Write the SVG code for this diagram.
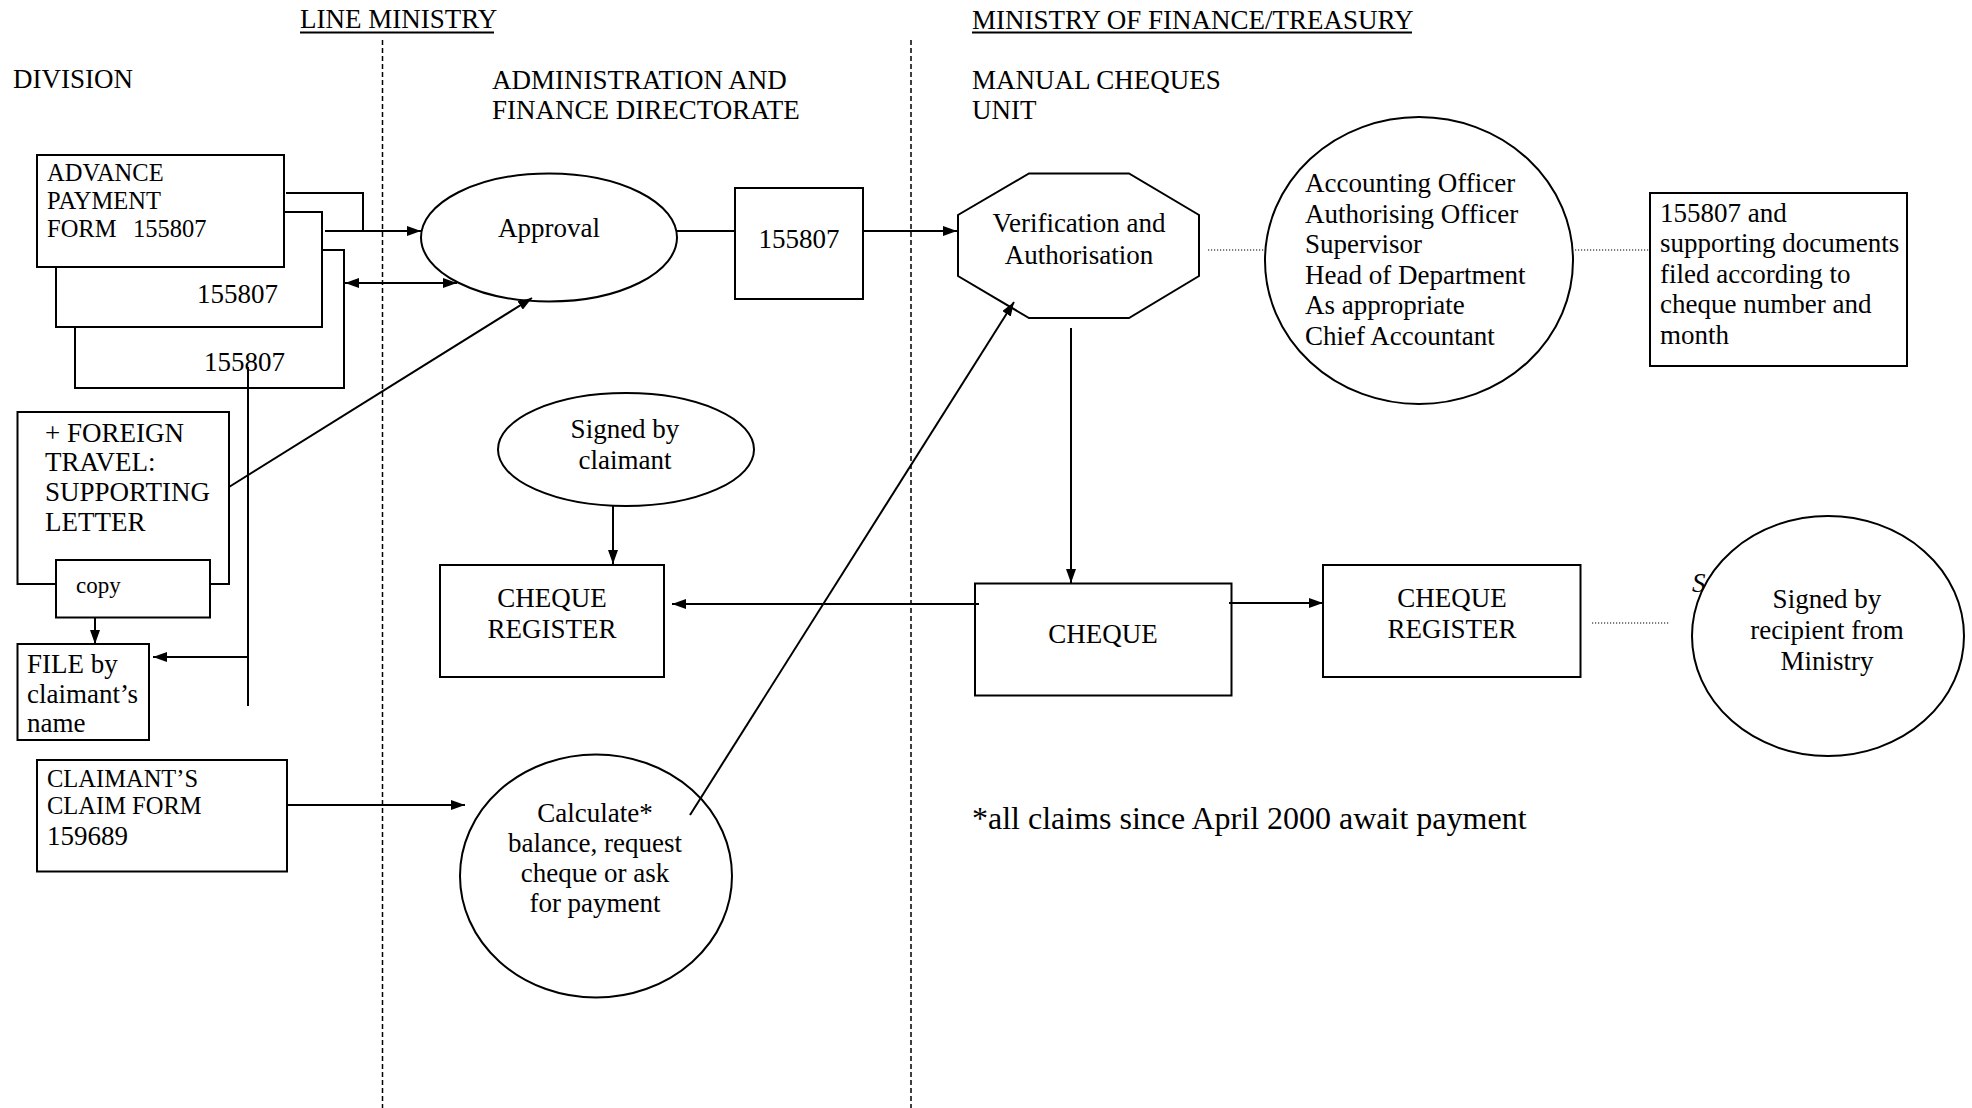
<svg xmlns="http://www.w3.org/2000/svg" width="1972" height="1108" viewBox="0 0 1972 1108">
  <style>
    text { font-family: "Liberation Serif", "Times New Roman", serif; font-size: 27px; fill: #000; }
    .small { font-size: 24.5px; }
    .copy { font-size: 23px; }
    .note { font-size: 32px; }
    .mid { text-anchor: middle; }
    .shape { fill: #fff; stroke: #000; stroke-width: 2; }
    .lane { stroke: #000; stroke-width: 1.5; stroke-dasharray: 5 3; fill: none; }
    .link { stroke: #000; stroke-width: 2; fill: none; }
    .dot { stroke: #000; stroke-width: 1.2; stroke-dasharray: 1.2 1.8; fill: none; }
    .head { stroke: #000; stroke-width: 2; }
  </style>
  <defs>
    <marker id="arrow" viewBox="0 0 14 10" refX="14" refY="5" markerWidth="14" markerHeight="10" markerUnits="userSpaceOnUse" orient="auto-start-reverse">
      <path d="M0,0 L14,5 L0,10 z" fill="#000"/>
    </marker>
  </defs>
  <rect width="1972" height="1108" fill="#fff"/>

  <!-- lane headings -->
  <g id="headings">
    <text x="300" y="28">LINE MINISTRY</text>
    <line class="head" x1="300" y1="32.5" x2="494" y2="32.5"/>
    <text x="972" y="29">MINISTRY OF FINANCE/TREASURY</text>
    <line class="head" x1="972" y1="32.5" x2="1412" y2="32.5"/>
    <text x="13" y="88">DIVISION</text>
    <text x="492" y="89">ADMINISTRATION AND</text>
    <text x="492" y="119">FINANCE DIRECTORATE</text>
    <text x="972" y="89">MANUAL CHEQUES</text>
    <text x="972" y="119">UNIT</text>
  </g>

  <!-- lane separators -->
  <g id="lanes">
    <line class="lane" x1="382.5" y1="40" x2="382.5" y2="1108"/>
    <line class="lane" x1="911" y1="40" x2="911" y2="1108"/>
  </g>

  <!-- stacked advance payment form copies -->
  <g id="form-copy-3">
    <rect class="shape" x="75" y="250" width="269" height="138"/>
    <text x="204" y="371">155807</text>
  </g>
  <g id="form-copy-2">
    <rect class="shape" x="56" y="212" width="266" height="115"/>
    <text x="197" y="303">155807</text>
  </g>
  <g id="advance-form">
    <rect class="shape" x="37" y="155" width="247" height="112"/>
    <text class="small" x="47" y="181">ADVANCE</text>
    <text class="small" x="47" y="209">PAYMENT</text>
    <text class="small" x="47" y="237">FORM</text>
    <text class="small" x="133" y="237">155807</text>
  </g>

  <g id="foreign-travel">
    <rect class="shape" x="17.5" y="412" width="211.5" height="172"/>
    <text x="45" y="442">+ FOREIGN</text>
    <text x="45" y="471">TRAVEL:</text>
    <text x="45" y="501">SUPPORTING</text>
    <text x="45" y="531">LETTER</text>
  </g>
  <g id="copy">
    <rect class="shape" x="56" y="560" width="154" height="57.5"/>
    <text class="copy" x="76" y="593">copy</text>
  </g>
  <g id="file">
    <rect class="shape" x="17.5" y="644" width="131.5" height="96"/>
    <text x="27" y="673">FILE by</text>
    <text x="27" y="703">claimant’s</text>
    <text x="27" y="732">name</text>
  </g>
  <g id="claim-form">
    <rect class="shape" x="37" y="760" width="250" height="111.5"/>
    <text class="small" x="47" y="787">CLAIMANT’S</text>
    <text class="small" x="47" y="814">CLAIM FORM</text>
    <text x="47" y="845">159689</text>
  </g>

  <!-- administration and finance directorate -->
  <g id="approval">
    <ellipse class="shape" cx="549" cy="237.5" rx="128" ry="64"/>
    <text class="mid" x="549" y="237">Approval</text>
  </g>
  <g id="form-number">
    <rect class="shape" x="735" y="188" width="128" height="111"/>
    <text class="mid" x="799" y="248">155807</text>
  </g>
  <g id="signed-claimant">
    <ellipse class="shape" cx="626" cy="449.5" rx="128" ry="56.5"/>
    <text class="mid" x="625" y="438">Signed by</text>
    <text class="mid" x="625" y="469">claimant</text>
  </g>
  <g id="register-left">
    <rect class="shape" x="440" y="565" width="224" height="112"/>
    <text class="mid" x="552" y="607">CHEQUE</text>
    <text class="mid" x="552" y="638">REGISTER</text>
  </g>
  <g id="calculate">
    <ellipse class="shape" cx="596" cy="876" rx="136" ry="121.5"/>
    <text class="mid" x="595" y="822">Calculate*</text>
    <text class="mid" x="595" y="852">balance, request</text>
    <text class="mid" x="595" y="882">cheque or ask</text>
    <text class="mid" x="595" y="912">for payment</text>
  </g>

  <!-- manual cheques unit -->
  <g id="verification">
    <polygon class="shape" points="1029,173.5 1129,173.5 1199,215 1199,276 1129,318 1029,318 958,276 958,215"/>
    <text class="mid" x="1079" y="232">Verification and</text>
    <text class="mid" x="1079" y="264">Authorisation</text>
  </g>
  <g id="officers">
    <ellipse class="shape" cx="1419" cy="260.5" rx="154" ry="143.5"/>
    <text x="1305" y="192">Accounting Officer</text>
    <text x="1305" y="222.5">Authorising Officer</text>
    <text x="1305" y="253">Supervisor</text>
    <text x="1305" y="283.5">Head of Department</text>
    <text x="1305" y="314">As appropriate</text>
    <text x="1305" y="344.5">Chief Accountant</text>
  </g>
  <g id="filing">
    <rect class="shape" x="1650" y="193" width="257" height="173"/>
    <text x="1660" y="222">155807 and</text>
    <text x="1660" y="252">supporting documents</text>
    <text x="1660" y="282.5">filed according to</text>
    <text x="1660" y="313">cheque number and</text>
    <text x="1660" y="344">month</text>
  </g>
  <g id="cheque">
    <rect class="shape" x="975" y="583.5" width="256.5" height="112"/>
    <text class="mid" x="1103" y="643">CHEQUE</text>
  </g>
  <g id="register-right">
    <rect class="shape" x="1323" y="565" width="257.5" height="112"/>
    <text class="mid" x="1452" y="607">CHEQUE</text>
    <text class="mid" x="1452" y="638">REGISTER</text>
  </g>
  <g id="signed-recipient">
    <text x="1692" y="592" font-style="italic">S</text>
    <ellipse class="shape" cx="1828" cy="636" rx="136" ry="120"/>
    <text class="mid" x="1827" y="608">Signed by</text>
    <text class="mid" x="1827" y="639">recipient from</text>
    <text class="mid" x="1827" y="670">Ministry</text>
  </g>

  <g id="footnote">
    <text class="note" x="972" y="829">*all claims since April 2000 await payment</text>
  </g>

  <!-- flows between documents and steps -->
  <g id="connectors">
    <path class="link" d="M286,193 H363 V231"/>
    <line class="link" x1="325" y1="231" x2="421" y2="231" marker-end="url(#arrow)"/>
    <line class="link" x1="345" y1="283" x2="457" y2="283" marker-start="url(#arrow)" marker-end="url(#arrow)"/>
    <line class="link" x1="248" y1="367" x2="248" y2="706"/>
    <line class="link" x1="248" y1="657" x2="153" y2="657" marker-end="url(#arrow)"/>
    <line class="link" x1="95" y1="618" x2="95" y2="644" marker-end="url(#arrow)"/>
    <line class="link" x1="229" y1="487" x2="532" y2="298" marker-end="url(#arrow)"/>
    <line class="link" x1="677" y1="231" x2="735" y2="231"/>
    <line class="link" x1="863" y1="231" x2="957" y2="231" marker-end="url(#arrow)"/>
    <line class="link" x1="287" y1="805" x2="465" y2="805" marker-end="url(#arrow)"/>
    <line class="link" x1="690" y1="815" x2="1014" y2="302" marker-end="url(#arrow)"/>
    <line class="link" x1="613" y1="506" x2="613" y2="564" marker-end="url(#arrow)"/>
    <line class="link" x1="1071" y1="328" x2="1071" y2="583" marker-end="url(#arrow)"/>
    <line class="link" x1="979" y1="604" x2="672" y2="604" marker-end="url(#arrow)"/>
    <line class="link" x1="1229" y1="603" x2="1323" y2="603" marker-end="url(#arrow)"/>
    <line class="dot" x1="1208" y1="250" x2="1265" y2="250"/>
    <line class="dot" x1="1575" y1="250" x2="1649" y2="250"/>
    <line class="dot" x1="1592" y1="623" x2="1670" y2="623"/>
  </g>
</svg>
